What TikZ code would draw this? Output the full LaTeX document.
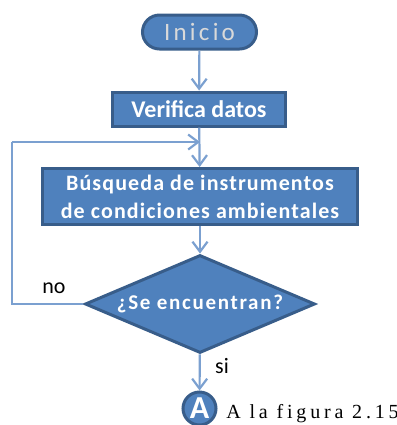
\documentclass[tikz,border=0pt]{standalone}
\usepackage{fontspec}
\setmainfont{Carlito}
\newfontfamily\serifcap[LetterSpace=19]{Liberation Serif}
\newfontfamily\wideinicio[LetterSpace=13]{Carlito}
\newfontfamily\widebox[LetterSpace=5]{Carlito}
\newfontfamily\widedecision[LetterSpace=8]{Carlito}
\usetikzlibrary{arrows.meta,shapes.geometric}
\definecolor{boxfill}{HTML}{4F81BD}
\definecolor{boxline}{HTML}{385D8A}
\definecolor{flowline}{HTML}{7BA0D0}
\tikzstyle{flow box}=[draw=boxline,fill=boxfill,line width=1.5pt,text=white,inner sep=0pt]
\tikzstyle{start box}=[flow box,rounded corners=8.5pt,minimum width=57pt,minimum height=17pt,text=black!15,font=\wideinicio\fontsize{12.5}{12}\selectfont]
\tikzstyle{process}=[flow box,font=\bfseries\fontsize{12}{14}\selectfont,align=center]
\tikzstyle{decision}=[flow box,diamond,aspect=2.3,minimum width=115pt,minimum height=49pt,font=\widedecision\bfseries\fontsize{10.5}{12}\selectfont]
\tikzstyle{connector}=[flow box,circle,minimum size=16.5pt,font=\bfseries\fontsize{16}{16}\selectfont]
\tikzstyle{edge}=[draw=flowline,line width=1.1pt]
\tikzstyle{flow}=[edge,-{Straight Barb[length=5pt,width=7.5pt,line width=1.1pt]}]
\begin{document}
\begin{tikzpicture}[x=0.5pt,y=-0.5pt]
    \useasboundingbox (0,0) rectangle (397,425);
    % First we draw the shapes
    \node[start box] (inicio) at (199.5,32) {Inicio};
    \node[process,minimum width=86.5pt,minimum height=17pt] (verifica) at (199,109) {Verifica datos};
    \node[process,minimum width=157.5pt,minimum height=28pt,font=\widebox\bfseries\fontsize{11}{14}\selectfont] (busqueda) at (200,196.5) {Búsqueda de instrumentos\\de condiciones ambientales};
    \node[decision] (encuentran) at (200,304) {¿Se encuentran?};
    \node[connector] (letra) at (199.5,408.5) {A};

    % Points of the way back
    \coordinate (esquina1) at (12,304);
    \coordinate (esquina2) at (12,142);
    \coordinate (union) at (200,142);

    % Connect the shapes
    \foreach \source/\dest in {inicio/verifica, verifica/busqueda, busqueda/encuentran, encuentran/letra}
        \path[flow] (\source) -- (\dest);
    \path[edge] (encuentran) -- (esquina1) -- (esquina2);
    \path[flow] (esquina2) -- (union);

    % Labels
    \node[font=\fontsize{11}{12}\selectfont,inner sep=0pt] (no) at (54,288) {no};
    \node[font=\fontsize{11}{12}\selectfont,inner sep=0pt] (si) at (222,366) {si};
    \node[font=\serifcap\fontsize{10}{12}\selectfont,inner sep=0pt,anchor=west] (figura) at (226,414) {A la figura 2.15};
\end{tikzpicture}
\end{document}
